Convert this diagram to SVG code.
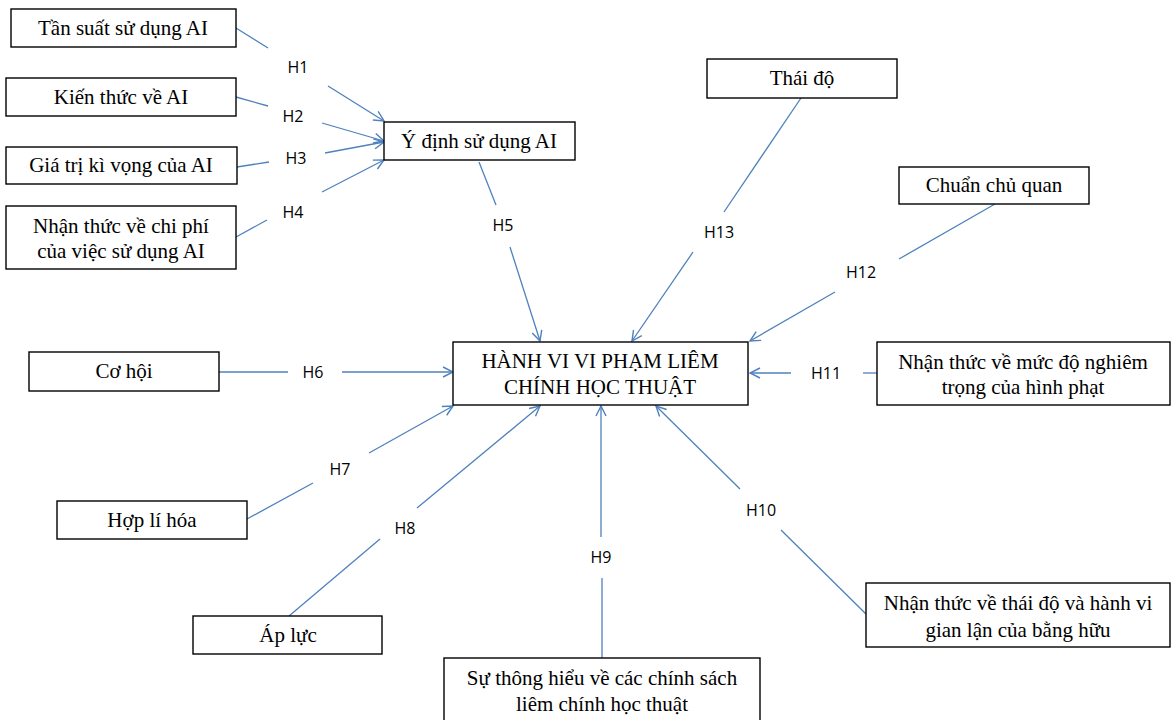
<svg xmlns="http://www.w3.org/2000/svg" width="1173" height="720" viewBox="0 0 1173 720">
<defs>
<marker id="arr" viewBox="0 0 12 12" refX="11" refY="6" markerWidth="12" markerHeight="12" markerUnits="userSpaceOnUse" orient="auto">
<path d="M1,1 L11,6 L1,11" fill="none" stroke="#4f81bd" stroke-width="1.4"/>
</marker>
</defs>
<style>
.box{fill:#fff;stroke:#000;stroke-width:1.4}
.t{font-family:"Liberation Serif","Times New Roman",serif;font-size:21px;fill:#000;text-anchor:middle;dominant-baseline:central}
.c{fill:none;stroke:#4f81bd;stroke-width:1.3}
.a{marker-end:url(#arr)}
.l{font-family:"Open Sans","Liberation Sans",sans-serif;font-size:16px;fill:#000;text-anchor:middle;dominant-baseline:central}
</style>
<rect width="1173" height="720" fill="#fff"/>
<g id="connectors">
<line class="c" x1="236" y1="28" x2="268" y2="48"/><line class="c a" x1="328" y1="86" x2="384" y2="121"/>
<line class="c" x1="236" y1="97" x2="268" y2="106"/><line class="c a" x1="322" y1="123" x2="384" y2="141"/>
<line class="c" x1="237" y1="167" x2="269" y2="162"/><line class="c a" x1="325" y1="153" x2="384" y2="142"/>
<line class="c" x1="236" y1="237" x2="267" y2="220"/><line class="c a" x1="322" y1="192" x2="384" y2="160"/>
<line class="c" x1="479" y1="162" x2="496" y2="205"/><line class="c a" x1="510" y1="247" x2="540" y2="341"/>
<line class="c" x1="801" y1="98" x2="724" y2="212"/><line class="c a" x1="693" y1="252" x2="632" y2="341"/>
<line class="c" x1="995" y1="204" x2="899" y2="259"/><line class="c a" x1="835" y1="292" x2="750" y2="341"/>
<line class="c" x1="877" y1="373" x2="863" y2="373"/><line class="c a" x1="791" y1="373" x2="750" y2="373"/>
<line class="c" x1="219" y1="372" x2="288" y2="372"/><line class="c a" x1="342" y1="372" x2="453" y2="372"/>
<line class="c" x1="247" y1="519" x2="313" y2="483"/><line class="c a" x1="369" y1="453" x2="453" y2="406"/>
<line class="c" x1="289" y1="616" x2="380" y2="539"/><line class="c a" x1="417" y1="508" x2="540" y2="406"/>
<line class="c" x1="602" y1="658" x2="602" y2="578"/><line class="c a" x1="601" y1="537" x2="601" y2="406"/>
<line class="c" x1="866" y1="614" x2="781" y2="530"/><line class="c a" x1="740" y1="489" x2="656" y2="406"/>
<text class="l" x="298" y="67">H1</text>
<text class="l" x="293" y="116">H2</text>
<text class="l" x="296" y="158">H3</text>
<text class="l" x="293" y="212">H4</text>
<text class="l" x="503" y="225">H5</text>
<text class="l" x="313" y="372">H6</text>
<text class="l" x="340" y="469">H7</text>
<text class="l" x="405" y="528">H8</text>
<text class="l" x="601" y="557">H9</text>
<text class="l" x="761" y="510">H10</text>
<text class="l" x="826" y="373">H11</text>
<text class="l" x="861" y="272">H12</text>
<text class="l" x="719" y="232">H13</text>
</g>
<g id="n1"><rect class="box" x="11" y="9" width="225" height="38"/><text class="t" x="123" y="28">Tần suất sử dụng AI</text></g>
<g id="n2"><rect class="box" x="6" y="78" width="230" height="38"/><text class="t" x="121" y="97">Kiến thức về AI</text></g>
<g id="n3"><rect class="box" x="6" y="147" width="231" height="37"/><text class="t" x="121" y="165">Giá trị kì vọng của AI</text></g>
<g id="n4"><rect class="box" x="6" y="206" width="230" height="63"/><text class="t" x="121" y="226">Nhận thức về chi phí</text><text class="t" x="121" y="251">của việc sử dụng AI</text></g>
<g id="n5"><rect class="box" x="384" y="122" width="191" height="38"/><text class="t" x="479" y="141">Ý định sử dụng AI</text></g>
<g id="n6"><rect class="box" x="707" y="59" width="190" height="39"/><text class="t" x="802" y="78">Thái độ</text></g>
<g id="n7"><rect class="box" x="899" y="167" width="190" height="37"/><text class="t" x="994" y="185">Chuẩn chủ quan</text></g>
<g id="center"><rect class="box" x="453" y="342" width="295" height="63"/><text class="t" x="600" y="361">HÀNH VI VI PHẠM LIÊM</text><text class="t" x="600" y="387">CHÍNH HỌC THUẬT</text></g>
<g id="n9"><rect class="box" x="877" y="342" width="293" height="63"/><text class="t" x="1023" y="362">Nhận thức về mức độ nghiêm</text><text class="t" x="1023" y="387">trọng của hình phạt</text></g>
<g id="n10"><rect class="box" x="29" y="352" width="190" height="39"/><text class="t" x="124" y="371">Cơ hội</text></g>
<g id="n11"><rect class="box" x="57" y="501" width="190" height="38"/><text class="t" x="152" y="520">Hợp lí hóa</text></g>
<g id="n12"><rect class="box" x="193" y="616" width="189" height="38"/><text class="t" x="288" y="635">Áp lực</text></g>
<g id="n13"><rect class="box" x="444" y="658" width="316" height="66"/><text class="t" x="602" y="678">Sự thông hiểu về các chính sách</text><text class="t" x="602" y="704">liêm chính học thuật</text></g>
<g id="n14"><rect class="box" x="866" y="583" width="304" height="64"/><text class="t" x="1018" y="603">Nhận thức về thái độ và hành vi</text><text class="t" x="1018" y="630">gian lận của bằng hữu</text></g>
</svg>
